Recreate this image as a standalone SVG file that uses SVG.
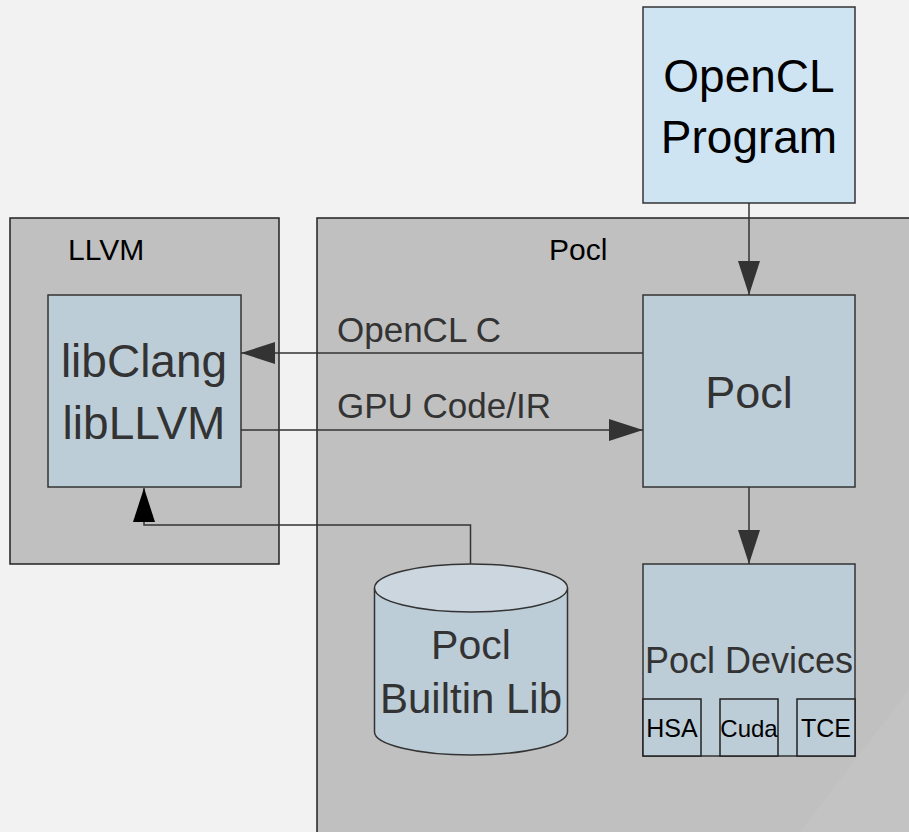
<svg xmlns="http://www.w3.org/2000/svg" width="909" height="832" viewBox="0 0 909 832">
<defs>
<style>
.t{font-family:"Liberation Sans",Arial,sans-serif;}
.container{fill:#c0c0c0;stroke:#222;stroke-width:1.5;}
.node{fill:#bdcdd8;stroke:#333;stroke-width:1.5;}
.big{font-size:46px;fill:#333;text-anchor:middle;}
.lbl{font-size:30px;fill:#000;}
.edge{fill:none;stroke:#333;stroke-width:1.5;}
.elbl{font-size:35px;fill:#333;}
.sub{fill:#bdcdd8;stroke:#222;stroke-width:1.5;}
.subt{font-size:25px;fill:#000;text-anchor:middle;}
</style>
<marker id="arr" markerUnits="userSpaceOnUse" markerWidth="34" markerHeight="22" refX="34" refY="11" orient="auto" viewBox="0 0 34 22">
<path d="M0,0 L34,11 L0,22 z" fill="#333"/>
</marker>
<marker id="arrb" markerUnits="userSpaceOnUse" markerWidth="34" markerHeight="22" refX="34" refY="11" orient="auto" viewBox="0 0 34 22">
<path d="M0,0 L34,11 L0,22 z" fill="#000"/>
</marker>
</defs>
<rect x="0" y="0" width="909" height="832" fill="#f2f2f2"/>

<g id="llvm-container">
<rect class="container" x="10" y="218" width="269" height="346"/>
<text class="t lbl" x="68" y="260">LLVM</text>
</g>

<g id="pocl-container">
<rect class="container" x="317" y="218" width="620" height="640"/>
<polygon points="909,690 909,832 800,832" fill="#ffffff" fill-opacity="0.05"/>
<text class="t lbl" x="549" y="260">Pocl</text>
</g>

<g id="opencl-program">
<rect x="643" y="7" width="212" height="196" fill="#cfe4f2" stroke="#333" stroke-width="1.5"/>
<text class="t big" x="749" y="92" style="fill:#000">OpenCL</text>
<text class="t big" x="749" y="153" style="fill:#000">Program</text>
</g>

<g id="libclang">
<rect class="node" x="48" y="295" width="193" height="192"/>
<text class="t big" x="144" y="377">libClang</text>
<text class="t big" x="144" y="439">libLLVM</text>
</g>

<g id="pocl">
<rect class="node" x="643" y="295" width="212" height="192"/>
<text class="t big" x="749" y="408" style="font-size:45px">Pocl</text>
</g>

<g id="builtin-lib">
<path d="M374.5,588 V732 A96.5,23 0 0 0 567.5,732 V588" fill="#bdcdd8" stroke="#333" stroke-width="1.5"/>
<ellipse cx="471" cy="588" rx="96.5" ry="24" fill="#ccd6df" stroke="#333" stroke-width="1.5"/>
<text class="t big" x="471" y="659" style="font-size:41px">Pocl</text>
<text class="t big" x="471" y="713" style="font-size:42px">Builtin Lib</text>
</g>

<g id="pocl-devices">
<rect class="node" x="643" y="564" width="212" height="192"/>
<text class="t big" x="749" y="673" style="font-size:36px">Pocl Devices</text>
</g>
<g id="hsa">
<rect class="sub" x="643" y="699" width="58" height="57"/>
<text class="t subt" x="672" y="737">HSA</text>
</g>
<g id="cuda">
<rect class="sub" x="720" y="699" width="58" height="57"/>
<text class="t subt" x="749" y="737" style="font-size:24px">Cuda</text>
</g>
<g id="tce">
<rect class="sub" x="797" y="699" width="58" height="57"/>
<text class="t subt" x="826" y="737">TCE</text>
</g>

<g id="connectors">
<line class="edge" x1="749" y1="203" x2="749" y2="295" marker-end="url(#arr)"/>
<line class="edge" x1="643" y1="353" x2="241" y2="353" marker-end="url(#arr)"/>
<line class="edge" x1="241" y1="430" x2="643" y2="430" marker-end="url(#arr)"/>
<line class="edge" x1="749" y1="487" x2="749" y2="564" marker-end="url(#arr)"/>
<path class="edge" d="M470.5,564 V525 H144 V488" marker-end="url(#arrb)"/>
<text class="t elbl" x="337" y="342">OpenCL C</text>
<text class="t elbl" x="337" y="418">GPU Code/IR</text>
</g>
</svg>
